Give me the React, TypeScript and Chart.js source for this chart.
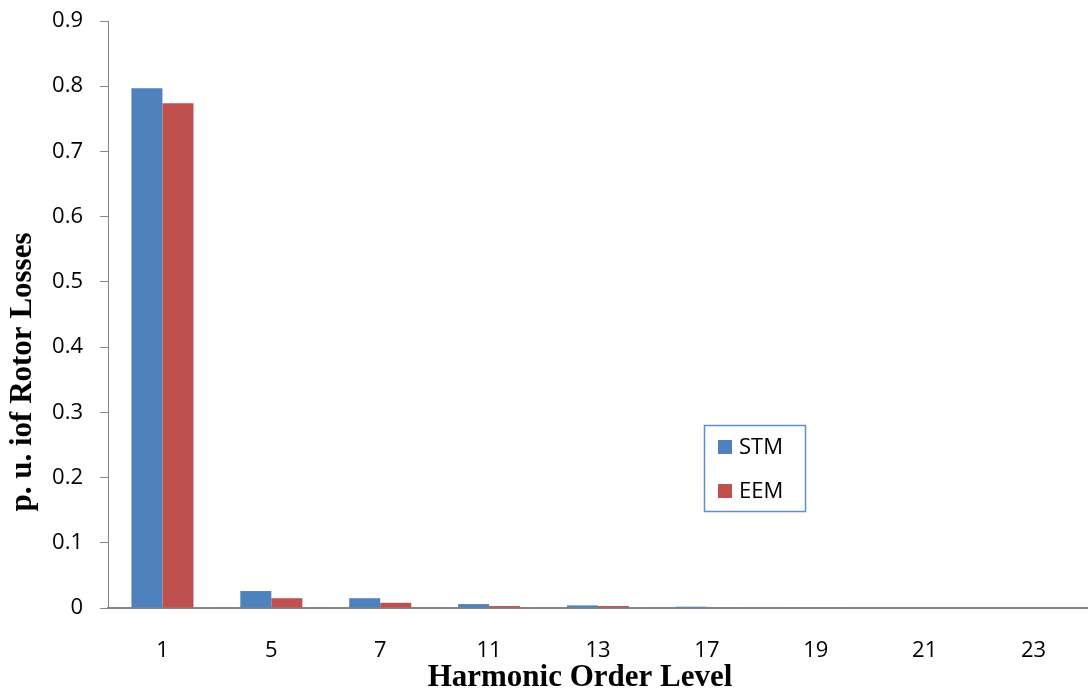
import React, { useEffect, useRef } from "react";
import { Chart, registerables } from "chart.js";

Chart.register(...registerables);

const categories = ["1", "5", "7", "11", "13", "17", "19", "21", "23"];
const stmValues = [0.797, 0.026, 0.015, 0.006, 0.004, 0.002, 0.001, 0.0, 0.0];
const eemValues = [0.774, 0.015, 0.008, 0.003, 0.003, 0.001, 0.0005, 0.0, 0.0];
const seriesNames = ["STM", "EEM"];
const seriesColors = ["#4F81BD", "#C0504D"];
const yTitle = "p. u. iof Rotor Losses";
const xTitle = "Harmonic Order Level";

const tickFont = "'Open Sans', 'Liberation Sans', sans-serif";
const titleFont = "'Liberation Serif', 'Times New Roman', serif";

const boxLegendPlugin = {
  id: "boxLegend",
  afterDraw(chart: any) {
    const ctx = chart.ctx;
    const x0 = 704;
    const y0 = 425;
    const w = 101;
    const h = 86;
    ctx.save();
    ctx.strokeStyle = "#5B8FD3";
    ctx.lineWidth = 1.5;
    ctx.strokeRect(x0 + 0.5, y0 + 0.5, w, h);
    chart.data.datasets.forEach((ds: any, i: number) => {
      const cy = y0 + 22 + i * 44;
      ctx.fillStyle = ds.backgroundColor;
      ctx.fillRect(x0 + 14, cy - 7, 14, 14);
      ctx.fillStyle = "#000";
      ctx.font = `22px ${tickFont}`;
      ctx.textBaseline = "middle";
      ctx.textAlign = "left";
      ctx.fillText(ds.label, x0 + 35, cy + 1);
    });
    ctx.restore();
  },
};

const titlesPlugin = {
  id: "axisTitles",
  afterDraw(chart: any) {
    const ctx = chart.ctx;
    ctx.save();
    ctx.fillStyle = "#000";
    ctx.font = `bold 31px ${titleFont}`;
    ctx.textAlign = "center";
    ctx.textBaseline = "alphabetic";
    ctx.fillText(xTitle, 580, 686);
    ctx.translate(31, 372);
    ctx.rotate(-Math.PI / 2);
    ctx.fillText(yTitle, 0, 0);
    ctx.restore();
  },
};

export default function App() {
  const ref = useRef<HTMLCanvasElement>(null);
  useEffect(() => {
    if (!ref.current) return;
    const chart = new Chart(ref.current, {
      type: "bar",
      data: {
        labels: categories,
        datasets: [
          { label: seriesNames[0], data: stmValues, backgroundColor: seriesColors[0] },
          { label: seriesNames[1], data: eemValues, backgroundColor: seriesColors[1] },
        ],
      },
      options: {
        animation: false,
        responsive: false,
        maintainAspectRatio: false,
        layout: { padding: { top: 21, left: 0, right: 0, bottom: 0 } },
        datasets: {
          bar: { categoryPercentage: 0.57, barPercentage: 1.0, borderWidth: 0 },
        },
        plugins: {
          legend: { display: false },
          tooltip: { enabled: false },
        },
        scales: {
          x: {
            grid: { display: false },
            border: { display: true, color: "#868686", width: 2 },
            ticks: {
              color: "#000",
              font: { family: tickFont, size: 22 },
              padding: 22,
            },
            afterFit(scale: any) {
              scale.height = 92;
              scale.paddingLeft = 0;
              scale.paddingRight = 0;
            },
          },
          y: {
            min: 0,
            max: 0.9,
            ticks: {
              stepSize: 0.1,
              color: "#000",
              font: { family: tickFont, size: 22 },
              padding: 17,
              callback: (v: any) => (Math.round(Number(v) * 10) / 10).toString(),
            },
            grid: {
              display: true,
              drawOnChartArea: false,
              drawTicks: true,
              tickLength: 8,
              color: "#868686",
              lineWidth: 1,
            },
            border: { display: true, color: "#868686", width: 1 },
            afterFit(scale: any) {
              scale.width = 108;
              scale.paddingTop = 0;
              scale.paddingBottom = 0;
            },
          },
        },
      },
      plugins: [boxLegendPlugin, titlesPlugin],
    });
    return () => chart.destroy();
  }, []);
  return (
    <div style={{ position: "fixed", left: 0, top: 0, width: 1088, height: 700, background: "#fff" }}>
      <canvas ref={ref} width={1088} height={700} style={{ width: 1088, height: 700 }} />
    </div>
  );
}
